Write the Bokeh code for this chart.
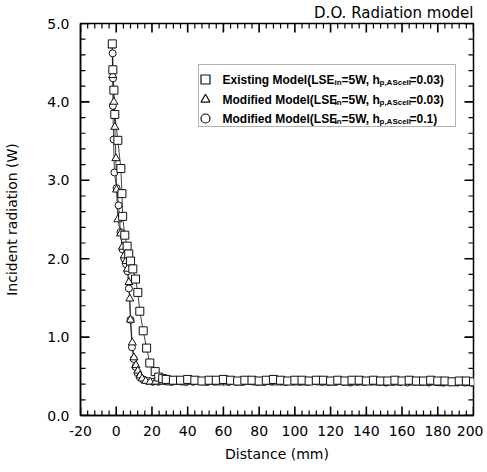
from bokeh.plotting import figure
from bokeh.models import (Range1d, SingleIntervalTicker, Label,
                          BoxAnnotation, PrintfTickFormatter)
from bokeh.embed import file_html
from bokeh.resources import INLINE

# ---------------- data ----------------
title_text = "D.O. Radiation model"
x_label = "Distance (mm)"
y_label = "Incident radiation (W)"

x_major_ticks = [-20, 0, 20, 40, 60, 80, 100, 120, 140, 160, 180, 200]
y_major_ticks = [0, 1, 2, 3, 4, 5]
x_minor_step = 4
y_minor_step = 0.2

# Existing Model (squares)
sq_x_drop = [-2.2, -1.9, -1.3, -0.8, 0.9, 2.6, 3.2, 3.6, 4.8, 6.1, 7.0, 8.0, 9.3,
             10.8, 12.1, 13.2, 15.1, 17.0, 18.8, 21.8, 23.8, 26.0]
sq_y_drop = [4.74, 4.41, 4.15, 3.84, 3.51, 3.15, 2.83, 2.54, 2.30, 2.16, 2.06, 1.97, 1.87,
             1.74, 1.57, 1.33, 1.08, 0.86, 0.67, 0.56, 0.49, 0.47]
sq_x_flat = [28, 32, 36, 40, 44, 48, 52, 56, 60, 64, 68, 72, 76, 80, 84, 88, 92, 96,
             100, 104, 108, 112, 116, 120, 124, 128, 132, 136, 140, 144, 148, 152,
             156, 160, 164, 168, 172, 176, 180, 184, 188, 192, 196, 200]
sq_y_flat = [0.46, 0.45, 0.45, 0.46, 0.45, 0.44, 0.45, 0.45, 0.46, 0.45, 0.44, 0.45,
             0.45, 0.44, 0.45, 0.46, 0.45, 0.44, 0.45, 0.45, 0.44, 0.45, 0.45, 0.44,
             0.45, 0.44, 0.45, 0.45, 0.44, 0.45, 0.44, 0.44, 0.45, 0.44, 0.45, 0.44,
             0.44, 0.45, 0.44, 0.44, 0.43, 0.44, 0.44, 0.43]

# Modified Model, h=0.03 (triangles)
tr_x_drop = [-2.3, -2.0, -1.3, -0.8, -0.2, 0.2, 0.9, 2.4, 3.5, 4.5, 5.5, 6.3, 7.1,
             7.6, 8.0, 9.0, 9.9, 11.0, 12.1, 13.3, 14.5, 16.5, 19.0, 22.0]
tr_y_drop = [4.72, 4.34, 4.00, 3.68, 3.28, 2.88, 2.50, 2.32, 2.15, 2.04, 1.97, 1.87, 1.70,
             1.49, 1.22, 0.93, 0.74, 0.64, 0.57, 0.51, 0.47, 0.44, 0.43, 0.43]
tr_x_flat = [26, 30, 34, 38, 42, 46, 50, 54, 58, 62, 66, 70, 74, 78, 82, 86, 90, 94,
             98, 102, 106, 110, 114, 118, 122, 126, 130, 134, 138, 142, 146, 150,
             154, 158, 162, 166, 170, 174, 178, 182, 186, 190, 194, 198]
tr_y_flat = [0.43, 0.42, 0.43, 0.42, 0.43, 0.43, 0.42, 0.43, 0.42, 0.42, 0.43, 0.42,
             0.43, 0.42, 0.42, 0.43, 0.42, 0.42, 0.43, 0.42, 0.42, 0.43, 0.42, 0.42,
             0.42, 0.43, 0.42, 0.42, 0.42, 0.43, 0.42, 0.42, 0.42, 0.42, 0.43, 0.42,
             0.42, 0.42, 0.42, 0.41, 0.42, 0.42, 0.42, 0.41]

# Modified Model, h=0.1 (circles)
ci_x_drop = [-2.0, -1.8, -1.9, -1.5, -1.0, 0.2, 1.3, 2.4, 3.5, 4.5, 5.5, 6.3, 7.1,
             8.0, 8.8, 9.8, 10.8, 12.0, 13.2, 15.0, 17.5, 20.5, 23.5]
ci_y_drop = [4.62, 4.30, 3.95, 3.52, 3.10, 2.90, 2.68, 2.34, 2.12, 2.00, 1.93, 1.84, 1.62,
             1.22, 0.87, 0.72, 0.62, 0.54, 0.49, 0.46, 0.44, 0.43, 0.43]
ci_x_flat = [27, 31, 35, 39, 43, 47, 51, 55, 59, 63, 67, 71, 75, 79, 83, 87, 91, 95,
             99, 103, 107, 111, 115, 119, 123, 127, 131, 135, 139, 143, 147, 151,
             155, 159, 163, 167, 171, 175, 179, 183, 187, 191, 195, 199]
ci_y_flat = [0.44, 0.43, 0.44, 0.43, 0.43, 0.44, 0.43, 0.43, 0.44, 0.43, 0.43, 0.43,
             0.44, 0.43, 0.43, 0.43, 0.44, 0.43, 0.43, 0.43, 0.43, 0.44, 0.43, 0.43,
             0.43, 0.43, 0.42, 0.43, 0.43, 0.43, 0.43, 0.42, 0.43, 0.43, 0.42, 0.43,
             0.43, 0.42, 0.43, 0.42, 0.43, 0.42, 0.42, 0.42]

legend_rows = [
    ("square", ["Existing Model(LSE", "in", "=5W, h", "p,AScell", "=0.03)"]),
    ("triangle", ["Modified Model(LSE", "in", "=5W, h", "p,AScell", "=0.03)"]),
    ("circle", ["Modified Model(LSE", "in", "=5W, h", "p,AScell", "=0.1)"]),
]

# ---------------- figure ----------------
X0, X1, Y0, Y1 = -20, 200, 0, 5
FW, FH = 393, 392
p = figure(frame_width=FW, frame_height=FH, x_range=Range1d(X0, X1), y_range=Range1d(Y0, Y1),
           output_backend="svg", toolbar_location=None,
           min_border_left=80, min_border_right=10, min_border_top=23, min_border_bottom=50,
           background_fill_color="white", border_fill_color="white")
p.xgrid.visible = False
p.ygrid.visible = False
p.outline_line_color = "black"
p.outline_line_width = 1.5

p.title.text = title_text
p.title.align = "right"
p.title.text_font = "DejaVu Sans"
p.title.text_font_size = "15px"
p.title.text_font_style = "normal"
p.title.text_color = "black"
p.title.standoff = 3
p.title.offset = 0

p.xaxis.ticker = SingleIntervalTicker(interval=20, num_minor_ticks=5)
p.yaxis.ticker = SingleIntervalTicker(interval=1, num_minor_ticks=5)
p.xaxis.formatter = PrintfTickFormatter(format="%d")
p.yaxis.formatter = PrintfTickFormatter(format="%.1f")

for ax in (p.xaxis[0], p.yaxis[0]):
    ax.major_tick_in = 0
    ax.major_tick_out = 0
    ax.minor_tick_in = 0
    ax.minor_tick_out = 0
    ax.axis_line_width = 1.5
    ax.axis_line_color = "black"
    ax.major_label_text_font = "DejaVu Sans"
    ax.major_label_text_font_size = "14px"
    ax.major_label_text_color = "black"
    ax.axis_label_text_font = "DejaVu Sans"
    ax.axis_label_text_font_size = "14px"
    ax.axis_label_text_font_style = "normal"
    ax.axis_label_text_color = "black"

p.xaxis.axis_label = x_label
p.yaxis.axis_label = y_label
p.xaxis.major_label_standoff = 10
p.xaxis.axis_label_standoff = 7
p.yaxis.major_label_standoff = 11
p.yaxis.axis_label_standoff = 24

# ---------------- inward ticks on all four sides ----------------
MAJ, MIN = 9, 5  # tick lengths in px
ux = (X1 - X0) / FW   # data units per px
uy = (Y1 - Y0) / FH
x_minor = [t + k * x_minor_step for t in x_major_ticks[:-1] for k in range(1, 5)]
y_minor = [round(t + k * y_minor_step, 2) for t in y_major_ticks[:-1] for k in range(1, 5)]
tick_col = "black"
for ticks, L, w in ((x_major_ticks, MAJ, 1.6), (x_minor, MIN, 1.2)):
    n = len(ticks)
    p.segment(x0=ticks, y0=[Y0] * n, x1=ticks, y1=[Y0 + L * uy] * n,
              line_color=tick_col, line_width=w)
    p.segment(x0=ticks, y0=[Y1] * n, x1=ticks, y1=[Y1 - L * uy] * n,
              line_color=tick_col, line_width=w)
for ticks, L, w in ((y_major_ticks, MAJ, 1.6), (y_minor, MIN, 1.2)):
    n = len(ticks)
    p.segment(x0=[X0] * n, y0=ticks, x1=[X0 + L * ux] * n, y1=ticks,
              line_color=tick_col, line_width=w)
    p.segment(x0=[X1] * n, y0=ticks, x1=[X1 - L * ux] * n, y1=ticks,
              line_color=tick_col, line_width=w)

# ---------------- series ----------------
col = "#111111"
ci_x = ci_x_drop + ci_x_flat
ci_y = ci_y_drop + ci_y_flat
tr_x = tr_x_drop + tr_x_flat
tr_y = tr_y_drop + tr_y_flat
sq_x = sq_x_drop + sq_x_flat
sq_y = sq_y_drop + sq_y_flat

p.line(ci_x, ci_y, line_color=col, line_width=0.8)
p.line(tr_x, tr_y, line_color=col, line_width=0.8)
p.line(sq_x, sq_y, line_color=col, line_width=0.8)
p.scatter(ci_x, ci_y, marker="circle", size=7, fill_color="white", line_color=col, line_width=1)
p.scatter(tr_x, tr_y, marker="triangle", size=8, fill_color="white", line_color=col, line_width=1)
p.scatter(sq_x, sq_y, marker="square", size=8, fill_color="white", line_color=col, line_width=1)

# ---------------- legend (pixel helpers) ----------------
FL, FT = 80, 23  # frame left/top in page pixels


def px2x(sx):
    return X0 + (sx - FL) * (X1 - X0) / FW


def px2y(sy):
    return Y1 - (sy - FT) * (Y1 - Y0) / FH


p.add_layout(BoxAnnotation(left=px2x(198), right=px2x(455), top=px2y(64), bottom=px2y(126),
                           fill_color="white", fill_alpha=1, line_color="black",
                           line_width=1, level="annotation"))

row_y = [79, 99, 118]
piece_x = [222, 334, 341, 379, 409]
piece_size = ["12px", "8px", "12px", "8px", "12px"]
piece_dy = [0, 3, 0, 3, 0]
leg_x, leg_y, leg_m = [], [], []
for (marker, pieces), ry in zip(legend_rows, row_y):
    leg_x.append(px2x(205))
    leg_y.append(px2y(ry))
    leg_m.append(marker)
    for txt, sx, fs, dy in zip(pieces, piece_x, piece_size, piece_dy):
        p.add_layout(Label(x=px2x(sx), y=px2y(ry + dy), text=txt, text_align="left",
                           text_baseline="middle", text_font="Liberation Sans",
                           text_font_style="bold", text_font_size=fs, text_color="black"))

p.scatter(leg_x, leg_y, marker=leg_m, size=9, fill_color="white", line_color=col,
          line_width=1.2, level="overlay")

open("out.html", "w").write(file_html(p, INLINE))
